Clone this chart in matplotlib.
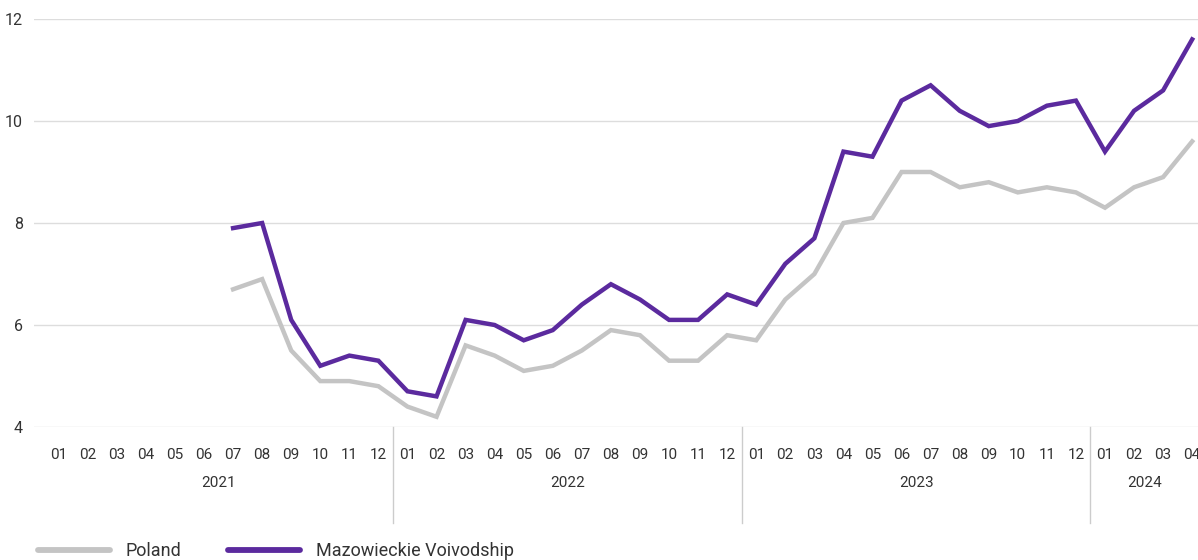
import matplotlib
matplotlib.use("Agg")
from matplotlib import pyplot as plt
from matplotlib.lines import Line2D
import numpy as np

plt.rcParams['font.family'] = ['Roboto', 'DejaVu Sans']

# Months from 2021-01 to 2024-04
years = ["2021", "2022", "2023", "2024"]
months_per_year = [12, 12, 12, 4]
month_labels = [f"{m:02d}" for n in months_per_year for m in range(1, n + 1)]

# Series start at 2021-07
start_index = 6
poland = [6.7, 6.9, 5.5, 4.9, 4.9, 4.8,
          4.4, 4.2, 5.6, 5.4, 5.1, 5.2, 5.5, 5.9, 5.8, 5.3, 5.3, 5.8,
          5.7, 6.5, 7.0, 8.0, 8.1, 9.0, 9.0, 8.7, 8.8, 8.6, 8.7, 8.6,
          8.3, 8.7, 8.9, 9.6]
mazowieckie = [7.9, 8.0, 6.1, 5.2, 5.4, 5.3,
               4.7, 4.6, 6.1, 6.0, 5.7, 5.9, 6.4, 6.8, 6.5, 6.1, 6.1, 6.6,
               6.4, 7.2, 7.7, 9.4, 9.3, 10.4, 10.7, 10.2, 9.9, 10.0, 10.3, 10.4,
               9.4, 10.2, 10.6, 11.6]
y_ticks = [4, 6, 8, 10, 12]

gray = "#c4c4c4"
purple = "#5b2a9e"
text_col = "#333333"

fig = plt.figure(figsize=(11.98, 5.60), dpi=100)
ax = fig.add_axes([34 / 1198, 1 - 427 / 560, 1 - 34 / 1198, 408 / 560])

x = np.arange(start_index, start_index + len(poland))
ax.plot(x, poland, color=gray, lw=3.2, solid_joinstyle="miter", clip_on=False, zorder=3)
ax.plot(x, mazowieckie, color=purple, lw=3.2, solid_joinstyle="miter", clip_on=False, zorder=4)

x_right = 39.2
ax.set_xlim(-0.85, x_right)
ax.set_ylim(4, 12)
ax.set_yticks(y_ticks)
ax.set_yticklabels([str(v) for v in y_ticks], fontsize=11.5, color=text_col)
ax.tick_params(axis="y", length=0, pad=8)
ax.yaxis.grid(True, color="#dddddd", lw=1)
ax.set_axisbelow(True)
ax.set_xticks([])
for s in ax.spines.values():
    s.set_visible(False)

# month and year labels
trans = ax.get_xaxis_transform()
for i, lab in enumerate(month_labels):
    ax.text(i, -0.069, lab, transform=trans, ha="center", va="center",
            fontsize=11, color=text_col, clip_on=False)

pos = 0
for yr, n in zip(years, months_per_year):
    if n < 12:
        # last year is centred on the visible part
        mid = (pos - 0.5 + x_right) / 2
    else:
        mid = pos + (n - 1) / 2
    ax.text(mid, -0.137, yr, transform=trans, ha="center", va="center",
            fontsize=11, color=text_col, clip_on=False)
    if pos > 0:
        ax.plot([pos - 0.5, pos - 0.5], [0, -0.235], transform=trans,
                color="#cccccc", lw=1, clip_on=False)
    pos += n

handles = [Line2D([], [], color=gray, lw=4.2, solid_capstyle="round"),
           Line2D([], [], color=purple, lw=4.2, solid_capstyle="round")]
fig.legend(handles, ["Poland", "Mazowieckie Voivodship"], loc="center left",
           bbox_to_anchor=(38 / 1198, 1 - 551 / 560), ncol=2, frameon=False,
           fontsize=13, handlelength=4.0, handletextpad=0.85, columnspacing=2.6,
           borderpad=0, borderaxespad=0, labelcolor=text_col)

fig.savefig("out.png", dpi=100)
